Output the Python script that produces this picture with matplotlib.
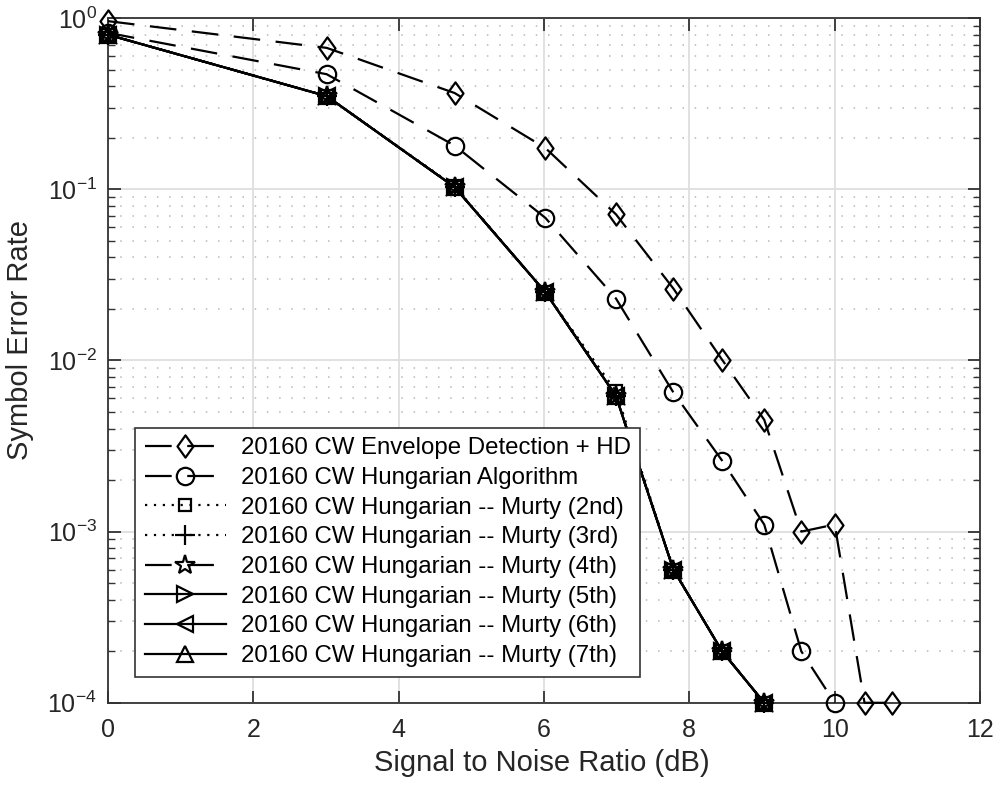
import numpy as np
import matplotlib
matplotlib.use('Agg')
import matplotlib.pyplot as plt
from matplotlib.path import Path
from matplotlib.ticker import LogLocator, NullFormatter

plt.rcParams['font.family'] = ['Liberation Sans', 'DejaVu Sans']
plt.rcParams['mathtext.fontset'] = 'custom'
plt.rcParams['mathtext.rm'] = 'Liberation Sans'
plt.rcParams['mathtext.it'] = 'Liberation Sans'

# SNR points (dB)
snr = [0, 3.01, 4.77, 6.02, 6.99, 7.78, 8.45, 9.03, 9.54, 10.0, 10.41, 10.79]

ser_envelope = [0.96, 0.67, 0.365, 0.174, 0.0714, 0.0263, 0.0101, 0.0045, 0.001, 0.0011, 1e-4, 1e-4]
ser_hungarian = [0.82, 0.47, 0.18, 0.068, 0.023, 0.0065, 0.0026, 0.0011, 0.0002, 1e-4]
ser_murty2 = [0.80, 0.35, 0.104, 0.025, 0.0066, 0.0006, 0.0002, 1e-4]
ser_murty3 = [0.80, 0.35, 0.103, 0.025, 0.0062, 0.0006, 0.0002, 1e-4]
ser_murty4 = [0.80, 0.35, 0.103, 0.025, 0.0062, 0.0006, 0.0002, 1e-4]
ser_murty5 = [0.80, 0.35, 0.103, 0.025, 0.0062, 0.0006, 0.0002, 1e-4]
ser_murty6 = [0.80, 0.35, 0.103, 0.025, 0.0062, 0.0006, 0.0002, 1e-4]
ser_murty7 = [0.80, 0.35, 0.103, 0.025, 0.0062, 0.0006, 0.0002, 1e-4]

labels = ['20160 CW Envelope Detection + HD',
          '20160 CW Hungarian Algorithm',
          '20160 CW Hungarian -- Murty (2nd)',
          '20160 CW Hungarian -- Murty (3rd)',
          '20160 CW Hungarian -- Murty (4th)',
          '20160 CW Hungarian -- Murty (5th)',
          '20160 CW Hungarian -- Murty (6th)',
          '20160 CW Hungarian -- Murty (7th)']

# MATLAB-like diamond (a bit taller than wide)
diamond = Path([(0, 1), (0.72, 0), (0, -1), (-0.72, 0), (0, 1)],
               [Path.MOVETO, Path.LINETO, Path.LINETO, Path.LINETO, Path.CLOSEPOLY])

series = [ser_envelope, ser_hungarian, ser_murty2, ser_murty3,
          ser_murty4, ser_murty5, ser_murty6, ser_murty7]
markers = [diamond, 'o', 's', '+', '*', '>', '<', '^']
dash = (0, (12, 7))
dots = (0, (1, 3))
styles = [dash, dash, dots, dots, dash, '-', '-', '-']
msizes = [16, 12.5, 8, 15, 15, 12, 12, 12]

fig = plt.figure(figsize=(9.95, 7.87), dpi=100)
ax = fig.add_axes([0.1085, 0.107, 0.8765, 0.870])

for y, lab, m, ls, ms in zip(series, labels, markers, styles, msizes):
    ax.semilogy(snr[:len(y)], y, color='black', linestyle=ls, linewidth=1.6,
                marker=m, markersize=ms, markerfacecolor='none',
                markeredgecolor='black', markeredgewidth=1.6, label=lab,
                clip_on=False, zorder=3)

ax.set_xlim(0, 12)
ax.set_ylim(1e-4, 1)
ax.set_xticks(np.arange(0, 13, 2))
ax.yaxis.set_major_locator(LogLocator(base=10, numticks=10))
ax.yaxis.set_minor_locator(LogLocator(base=10, subs=np.arange(2, 10), numticks=20))
ax.yaxis.set_minor_formatter(NullFormatter())

ax.grid(True, which='major', color='#dedede', linewidth=1.3)
ax.grid(True, which='minor', axis='y', color='#b8b8b8', linestyle=(0, (1, 7)), linewidth=1.1)
ax.set_axisbelow(True)

ax.tick_params(which='both', direction='in', top=True, right=True, labelsize=18,
               color='#333333', labelcolor='#262626')
ax.tick_params(which='major', length=9, width=1.3)
ax.tick_params(which='minor', length=5, width=1)
ax.tick_params(axis='x', which='major', pad=11)
ax.tick_params(axis='y', which='major', pad=8)
for sp in ax.spines.values():
    sp.set_color('#333333')
    sp.set_linewidth(1.3)

ax.set_xlabel('Signal to Noise Ratio (dB)', fontsize=21, color='#262626')
ax.set_ylabel('Symbol Error Rate', fontsize=21, color='#262626')
ax.xaxis.set_label_coords(0.498, -0.068)
ax.yaxis.set_label_coords(-0.085, 0.53)

leg = ax.legend(loc='lower left', bbox_to_anchor=(0.031, 0.038), fontsize=17.3,
                handlelength=3.4, handletextpad=0.6, labelspacing=0.32,
                borderpad=0.4, borderaxespad=0, fancybox=False, framealpha=1,
                edgecolor='#333333')
leg.get_frame().set_linewidth(1.2)

fig.savefig('out.png', dpi=100)
